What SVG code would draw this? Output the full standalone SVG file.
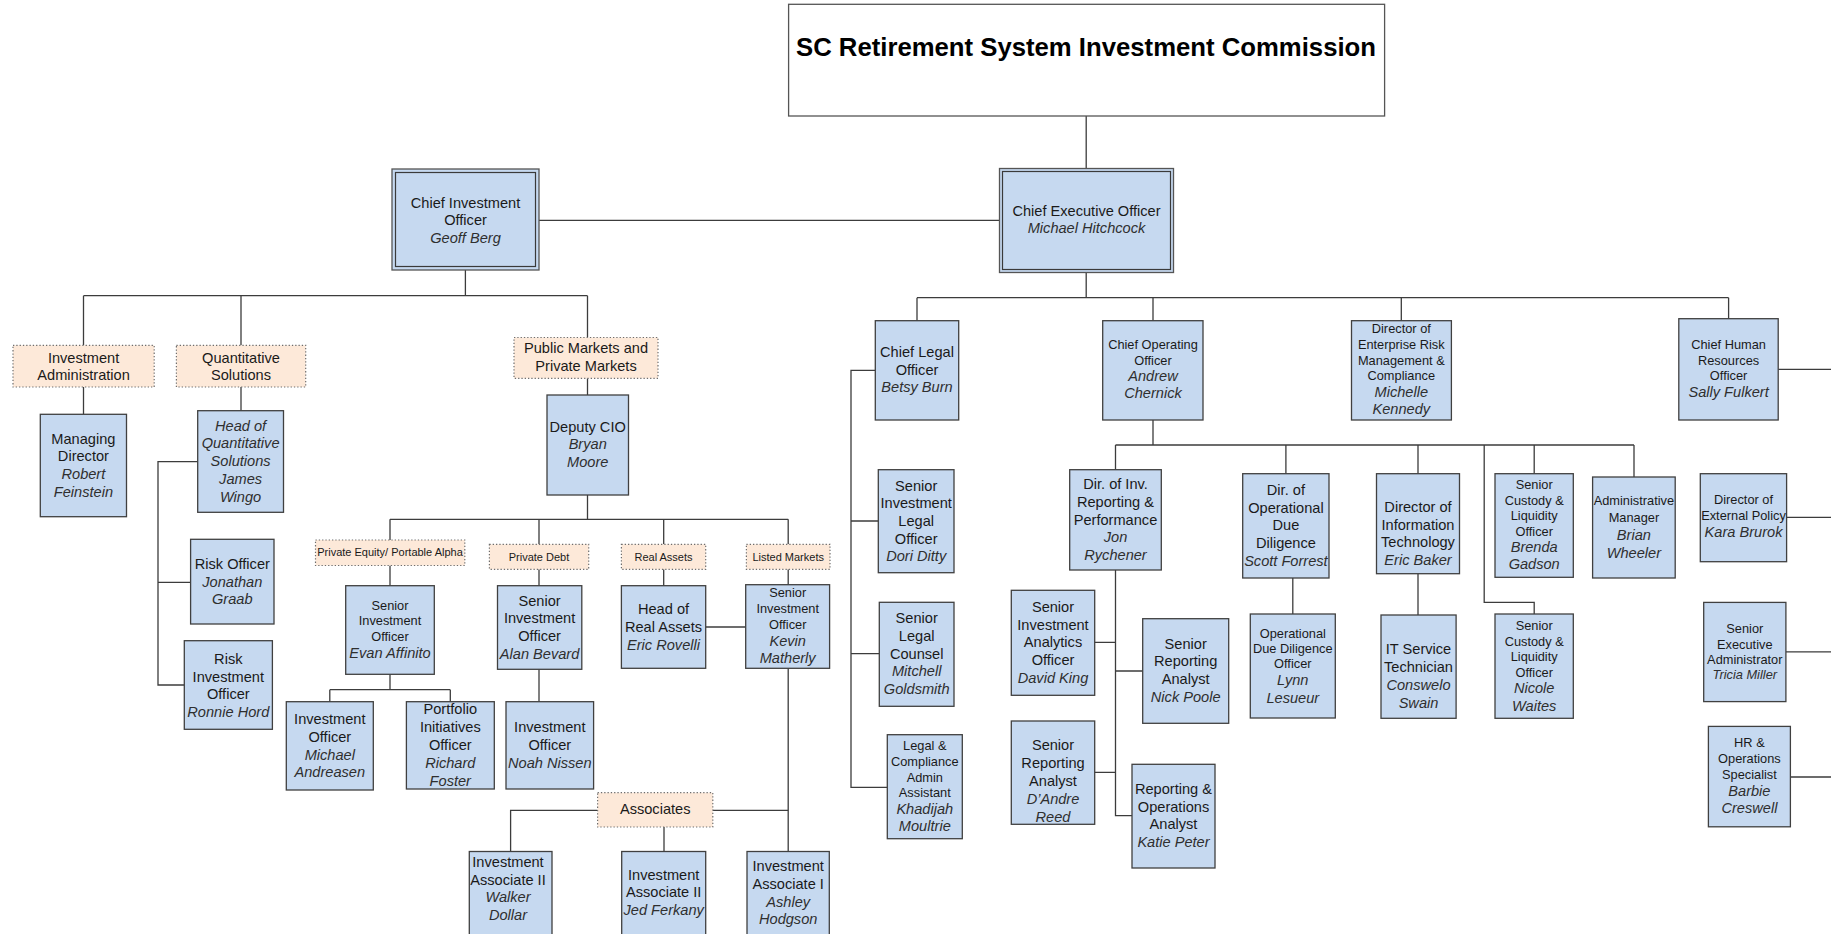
<svg xmlns="http://www.w3.org/2000/svg" width="1831" height="934" viewBox="0 0 1831 934">
  <style>
    .b { fill: #c6d9f0; stroke: #404040; stroke-width: 1.3; }
    .d { fill: #fde9d9; stroke: #6e6e6e; stroke-width: 1.2; stroke-dasharray: 1.3 2; }
    .o { fill: #c6d9f0; stroke: #555555; stroke-width: 1.3; }
    .in { fill: none; stroke: #3a3a3a; stroke-width: 1.2; }
    text { font-family: "Liberation Sans", Arial, sans-serif; text-anchor: middle; fill: #1a1a1a; font-size: 14.6px; }
    .s { font-size: 12.8px; }
    .xs { font-size: 11px; }
    .i { font-style: italic; fill: #2f2f2f; }
    .title { font-size: 25px; font-weight: bold; fill: #000; }
    #connectors path { fill: none; stroke: #3c3c3c; stroke-width: 1.3; }
  </style>
  <rect width="1831" height="934" fill="#ffffff"/>

  <!-- connectors -->
  <g id="connectors">
    <path d="M1086.2 116 V168.5"/>
    <path d="M539 220.3 H999.5"/>
    <!-- CIO branch -->
    <path d="M465.4 270 V295.7 M83.5 295.7 H587.5 M83.5 295.7 V345.3 M241 295.7 V345.3 M587.5 295.7 V337.5"/>
    <path d="M83.5 387 V414.3"/>
    <path d="M241 387 V410.7"/>
    <path d="M197.7 461.7 H158 V685 H184.3 M158 582.3 H190.6"/>
    <path d="M587.5 378.3 V395"/>
    <path d="M587.5 495 V519.3 M390 519.3 H788.2 M390 519.3 V540 M539 519.3 V544.3 M663.7 519.3 V544.3 M788.2 519.3 V544.3"/>
    <path d="M390 565.5 V585.7"/>
    <path d="M390 674.3 V689.7 M329.8 689.7 H450.3 M329.8 689.7 V701.7 M450.3 689.7 V701.7"/>
    <path d="M539 569.3 V585.7"/>
    <path d="M539 669.3 V701.7"/>
    <path d="M663.7 569.3 V585.7"/>
    <path d="M788.2 569.3 V584.7"/>
    <path d="M705.7 627 H745.7"/>
    <path d="M788.2 668.3 V851.5"/>
    <path d="M712.8 810.3 H788.2"/>
    <path d="M597.6 810.3 H510.6 V851.5"/>
    <path d="M664 827 V851.5"/>
    <!-- CEO branch -->
    <path d="M1086.2 272.7 V297.7 M917 297.7 H1728.6 M917 297.7 V320.7 M1153 297.7 V320.7 M1401.3 297.7 V320.7 M1728.6 297.7 V318.7"/>
    <path d="M875.3 370.3 H851 V787.3 H887.3 M851 521 H878.3 M851 653.7 H879.3"/>
    <path d="M1153 420 V445 M1115.5 445 H1634 M1115.5 445 V469.7 M1285.9 445 V473.7 M1418 445 V473.7 M1534.2 445 V473.7 M1634 445 V477"/>
    <path d="M1484.2 445 V602.3 H1534.2 V614"/>
    <path d="M1115.5 570 V815.7 H1132 M1094.7 642.3 H1115.5 M1115.5 671 H1142.7 M1094.7 772.3 H1115.5"/>
    <path d="M1292.8 578 V614"/>
    <path d="M1418 573.7 V615"/>
    <path d="M1778.2 369.3 H1831 M1786.6 517.3 H1831 M1785.9 651.8 H1831 M1790.4 777 H1831"/>
  </g>

  <!-- top level -->
  <g id="commission">
    <rect x="788.6" y="4.3" width="596" height="111.7" fill="#ffffff" stroke="#555555" stroke-width="1.3"/>
    <text class="title" x="1086" y="55.7" textLength="580" lengthAdjust="spacingAndGlyphs">SC Retirement System Investment Commission</text>
  </g>
  <g id="cio">
    <rect class="o" x="392" y="169" width="147" height="101"/>
    <rect class="in" x="395.5" y="172.5" width="140" height="94"/>
    <text x="465.5"><tspan x="465.5" y="207.5">Chief Investment</tspan><tspan x="465.5" y="225">Officer</tspan><tspan class="i" x="465.5" y="242.7">Geoff Berg</tspan></text>
  </g>
  <g id="ceo">
    <rect class="o" x="999.5" y="168.5" width="174" height="104"/>
    <rect class="in" x="1002.5" y="171.5" width="168" height="98"/>
    <text x="1086.5"><tspan x="1086.5" y="215.7">Chief Executive Officer</tspan><tspan class="i" x="1086.5" y="232.7">Michael Hitchcock</tspan></text>
  </g>

  <!-- investment office -->
  <g id="investment-administration">
    <rect class="d" x="13" y="345.3" width="141.2" height="41.7"/>
    <text x="83.6"><tspan x="83.6" y="362.5">Investment</tspan><tspan x="83.6" y="380">Administration</tspan></text>
  </g>
  <g id="quantitative-solutions">
    <rect class="d" x="176.4" y="345.3" width="129.3" height="41.7"/>
    <text x="241"><tspan x="241" y="362.5">Quantitative</tspan><tspan x="241" y="380">Solutions</tspan></text>
  </g>
  <g id="public-private-markets">
    <rect class="d" x="514" y="337.5" width="144" height="40.8"/>
    <text x="586"><tspan x="586" y="353">Public Markets and</tspan><tspan x="586" y="370.5">Private Markets</tspan></text>
  </g>
  <g id="managing-director">
    <rect class="b" x="40.3" y="414.3" width="86.2" height="102.4"/>
    <text x="83.4"><tspan x="83.4" y="443.5">Managing</tspan><tspan x="83.4" y="461">Director</tspan><tspan class="i" x="83.4" y="479">Robert</tspan><tspan class="i" x="83.4" y="497">Feinstein</tspan></text>
  </g>
  <g id="head-quant">
    <rect class="b" x="197.7" y="410.7" width="85.8" height="101.6"/>
    <text class="i" x="240.6"><tspan x="240.6" y="430.5">Head of</tspan><tspan x="240.6" y="448">Quantitative</tspan><tspan x="240.6" y="466">Solutions</tspan><tspan x="240.6" y="483.5">James</tspan><tspan x="240.6" y="501.5">Wingo</tspan></text>
  </g>
  <g id="risk-officer">
    <rect class="b" x="190.6" y="539.3" width="83.4" height="84.7"/>
    <text x="232.3"><tspan x="232.3" y="568.5">Risk Officer</tspan><tspan class="i" x="232.3" y="586.5">Jonathan</tspan><tspan class="i" x="232.3" y="604">Graab</tspan></text>
  </g>
  <g id="risk-investment-officer">
    <rect class="b" x="184.3" y="640.7" width="88.1" height="88.6"/>
    <text x="228.3"><tspan x="228.3" y="664">Risk</tspan><tspan x="228.3" y="681.5">Investment</tspan><tspan x="228.3" y="699">Officer</tspan><tspan class="i" x="228.3" y="717">Ronnie Hord</tspan></text>
  </g>
  <g id="deputy-cio">
    <rect class="b" x="547" y="395" width="81.5" height="100"/>
    <text x="587.7"><tspan x="587.7" y="432">Deputy CIO</tspan><tspan class="i" x="587.7" y="449">Bryan</tspan><tspan class="i" x="587.7" y="466.5">Moore</tspan></text>
  </g>
  <g id="private-equity">
    <rect class="d" x="315.5" y="540" width="149.3" height="25.5"/>
    <text class="xs" x="390" y="556">Private Equity/ Portable Alpha</text>
  </g>
  <g id="private-debt">
    <rect class="d" x="489.4" y="544.3" width="99.3" height="25"/>
    <text class="xs" x="539" y="560.5">Private Debt</text>
  </g>
  <g id="real-assets">
    <rect class="d" x="621.4" y="544.3" width="84.3" height="25"/>
    <text class="xs" x="663.5" y="560.5">Real Assets</text>
  </g>
  <g id="listed-markets">
    <rect class="d" x="746.4" y="544.3" width="83.6" height="25"/>
    <text class="xs" x="788.2" y="560.5">Listed Markets</text>
  </g>
  <g id="sio-affinito">
    <rect class="b" x="345.7" y="585.7" width="88.6" height="88.6"/>
    <text x="390"><tspan class="s" x="390" y="609.5">Senior</tspan><tspan class="s" x="390" y="625">Investment</tspan><tspan class="s" x="390" y="640.5">Officer</tspan><tspan class="i" x="390" y="657.5">Evan Affinito</tspan></text>
  </g>
  <g id="sio-bevard">
    <rect class="b" x="497.5" y="585.7" width="84.3" height="83.6"/>
    <text x="539.6"><tspan x="539.6" y="605.5">Senior</tspan><tspan x="539.6" y="623">Investment</tspan><tspan x="539.6" y="641">Officer</tspan><tspan class="i" x="539.6" y="659">Alan Bevard</tspan></text>
  </g>
  <g id="io-andreasen">
    <rect class="b" x="286.3" y="701.7" width="87" height="88.3"/>
    <text x="329.8"><tspan x="329.8" y="724">Investment</tspan><tspan x="329.8" y="742">Officer</tspan><tspan class="i" x="329.8" y="759.5">Michael</tspan><tspan class="i" x="329.8" y="777">Andreasen</tspan></text>
  </g>
  <g id="pio-foster">
    <rect class="b" x="406.4" y="701.7" width="87.9" height="87.3"/>
    <text x="450.3"><tspan x="450.3" y="714">Portfolio</tspan><tspan x="450.3" y="732">Initiatives</tspan><tspan x="450.3" y="750">Officer</tspan><tspan class="i" x="450.3" y="767.5">Richard</tspan><tspan class="i" x="450.3" y="785.5">Foster</tspan></text>
  </g>
  <g id="io-nissen">
    <rect class="b" x="506" y="701.7" width="87.6" height="87.3"/>
    <text x="549.8"><tspan x="549.8" y="732">Investment</tspan><tspan x="549.8" y="750">Officer</tspan><tspan class="i" x="549.8" y="767.5">Noah Nissen</tspan></text>
  </g>
  <g id="head-real-assets">
    <rect class="b" x="621.4" y="585.7" width="84.3" height="82.6"/>
    <text x="663.5"><tspan x="663.5" y="614">Head of</tspan><tspan x="663.5" y="632">Real Assets</tspan><tspan class="i" x="663.5" y="649.5">Eric Rovelli</tspan></text>
  </g>
  <g id="sio-matherly">
    <rect class="b" x="745.7" y="584.7" width="83.9" height="83.6"/>
    <text x="787.7"><tspan class="s" x="787.7" y="597">Senior</tspan><tspan class="s" x="787.7" y="613">Investment</tspan><tspan class="s" x="787.7" y="629">Officer</tspan><tspan class="i" x="787.7" y="645.5">Kevin</tspan><tspan class="i" x="787.7" y="663">Matherly</tspan></text>
  </g>
  <g id="associates">
    <rect class="d" x="597.6" y="792.7" width="115.2" height="34.3"/>
    <text x="655.2" y="814">Associates</text>
  </g>
  <g id="ia-dollar">
    <rect class="b" x="469.3" y="851.5" width="82.7" height="90"/>
    <text x="508"><tspan x="508" y="866.5">Investment</tspan><tspan x="508" y="884.5">Associate II</tspan><tspan class="i" x="508" y="902">Walker</tspan><tspan class="i" x="508" y="919.5">Dollar</tspan></text>
  </g>
  <g id="ia-ferkany">
    <rect class="b" x="621.7" y="851.5" width="84" height="90"/>
    <text x="663.7"><tspan x="663.7" y="880">Investment</tspan><tspan x="663.7" y="897">Associate II</tspan><tspan class="i" x="663.7" y="914.5">Jed Ferkany</tspan></text>
  </g>
  <g id="ia-hodgson">
    <rect class="b" x="747" y="851.5" width="82.3" height="90"/>
    <text x="788.2"><tspan x="788.2" y="870.5">Investment</tspan><tspan x="788.2" y="889">Associate I</tspan><tspan class="i" x="788.2" y="906.5">Ashley</tspan><tspan class="i" x="788.2" y="924">Hodgson</tspan></text>
  </g>

  <!-- executive office -->
  <g id="chief-legal">
    <rect class="b" x="875.3" y="320.7" width="83.4" height="99.3"/>
    <text x="917"><tspan x="917" y="357">Chief Legal</tspan><tspan x="917" y="374.5">Officer</tspan><tspan class="i" x="917" y="392">Betsy Burn</tspan></text>
  </g>
  <g id="coo">
    <rect class="b" x="1102.7" y="320.7" width="100.3" height="99.3"/>
    <text x="1153"><tspan class="s" x="1153" y="348.5">Chief Operating</tspan><tspan class="s" x="1153" y="364.5">Officer</tspan><tspan class="i" x="1153" y="381">Andrew</tspan><tspan class="i" x="1153" y="398">Chernick</tspan></text>
  </g>
  <g id="erm-director">
    <rect class="b" x="1351.5" y="320.7" width="99.9" height="99.3"/>
    <text x="1401.3"><tspan class="s" x="1401.3" y="333">Director of</tspan><tspan class="s" x="1401.3" y="349">Enterprise Risk</tspan><tspan class="s" x="1401.3" y="364.5">Management &amp;</tspan><tspan class="s" x="1401.3" y="379.5">Compliance</tspan><tspan class="i" x="1401.3" y="396.5">Michelle</tspan><tspan class="i" x="1401.3" y="413.5">Kennedy</tspan></text>
  </g>
  <g id="chro">
    <rect class="b" x="1678.8" y="318.7" width="99.4" height="101.3"/>
    <text x="1728.6"><tspan class="s" x="1728.6" y="348.5">Chief Human</tspan><tspan class="s" x="1728.6" y="364.5">Resources</tspan><tspan class="s" x="1728.6" y="380">Officer</tspan><tspan class="i" x="1728.6" y="397">Sally Fulkert</tspan></text>
  </g>
  <g id="sil-ditty">
    <rect class="b" x="878.3" y="469.7" width="75.7" height="103"/>
    <text x="916.2"><tspan x="916.2" y="490.5">Senior</tspan><tspan x="916.2" y="508">Investment</tspan><tspan x="916.2" y="525.5">Legal</tspan><tspan x="916.2" y="543.5">Officer</tspan><tspan class="i" x="916.2" y="561">Dori Ditty</tspan></text>
  </g>
  <g id="slc-goldsmith">
    <rect class="b" x="879.3" y="602.3" width="74.7" height="104"/>
    <text x="916.7"><tspan x="916.7" y="623">Senior</tspan><tspan x="916.7" y="641">Legal</tspan><tspan x="916.7" y="658.5">Counsel</tspan><tspan class="i" x="916.7" y="676">Mitchell</tspan><tspan class="i" x="916.7" y="693.5">Goldsmith</tspan></text>
  </g>
  <g id="lca-moultrie">
    <rect class="b" x="887.3" y="734.7" width="75" height="104"/>
    <text x="924.8"><tspan class="s" x="924.8" y="750">Legal &amp;</tspan><tspan class="s" x="924.8" y="766">Compliance</tspan><tspan class="s" x="924.8" y="781.5">Admin</tspan><tspan class="s" x="924.8" y="797">Assistant</tspan><tspan class="i" x="924.8" y="813.5">Khadijah</tspan><tspan class="i" x="924.8" y="830.5">Moultrie</tspan></text>
  </g>
  <g id="dir-reporting">
    <rect class="b" x="1069.7" y="469.7" width="91.6" height="100.3"/>
    <text x="1115.5"><tspan x="1115.5" y="489">Dir. of Inv.</tspan><tspan x="1115.5" y="507">Reporting &amp;</tspan><tspan x="1115.5" y="524.5">Performance</tspan><tspan class="i" x="1115.5" y="542">Jon</tspan><tspan class="i" x="1115.5" y="559.5">Rychener</tspan></text>
  </g>
  <g id="dir-odd">
    <rect class="b" x="1242.7" y="473.7" width="86.3" height="104.3"/>
    <text x="1285.9"><tspan x="1285.9" y="495">Dir. of</tspan><tspan x="1285.9" y="512.5">Operational</tspan><tspan x="1285.9" y="530">Due</tspan><tspan x="1285.9" y="548">Diligence</tspan><tspan class="i" x="1285.9" y="565.5">Scott Forrest</tspan></text>
  </g>
  <g id="dir-it">
    <rect class="b" x="1376.5" y="473.7" width="83" height="100"/>
    <text x="1418"><tspan x="1418" y="511.5">Director of</tspan><tspan x="1418" y="529.5">Information</tspan><tspan x="1418" y="547">Technology</tspan><tspan class="i" x="1418" y="564.5">Eric Baker</tspan></text>
  </g>
  <g id="scl-gadson">
    <rect class="b" x="1495" y="473.7" width="78.3" height="103.6"/>
    <text x="1534.2"><tspan class="s" x="1534.2" y="488.5">Senior</tspan><tspan class="s" x="1534.2" y="504.5">Custody &amp;</tspan><tspan class="s" x="1534.2" y="520">Liquidity</tspan><tspan class="s" x="1534.2" y="535.5">Officer</tspan><tspan class="i" x="1534.2" y="552">Brenda</tspan><tspan class="i" x="1534.2" y="569">Gadson</tspan></text>
  </g>
  <g id="admin-manager">
    <rect class="b" x="1592.6" y="477" width="82.6" height="101"/>
    <text x="1633.9"><tspan class="s" x="1633.9" y="505">Administrative</tspan><tspan class="s" x="1633.9" y="522">Manager</tspan><tspan class="i" x="1633.9" y="540">Brian</tspan><tspan class="i" x="1633.9" y="557.5">Wheeler</tspan></text>
  </g>
  <g id="dir-external-policy">
    <rect class="b" x="1700.3" y="473.7" width="86.3" height="88"/>
    <text x="1743.5"><tspan class="s" x="1743.5" y="504">Director of</tspan><tspan class="s" x="1743.5" y="520">External Policy</tspan><tspan class="i" x="1743.5" y="537">Kara Brurok</tspan></text>
  </g>
  <g id="sia-king">
    <rect class="b" x="1011.3" y="590.3" width="83.4" height="105"/>
    <text x="1053"><tspan x="1053" y="612">Senior</tspan><tspan x="1053" y="629.5">Investment</tspan><tspan x="1053" y="647">Analytics</tspan><tspan x="1053" y="664.5">Officer</tspan><tspan class="i" x="1053" y="682.5">David King</tspan></text>
  </g>
  <g id="sra-poole">
    <rect class="b" x="1142.7" y="618.7" width="86" height="104.6"/>
    <text x="1185.7"><tspan x="1185.7" y="648.5">Senior</tspan><tspan x="1185.7" y="666">Reporting</tspan><tspan x="1185.7" y="684">Analyst</tspan><tspan class="i" x="1185.7" y="701.5">Nick Poole</tspan></text>
  </g>
  <g id="sra-reed">
    <rect class="b" x="1011.3" y="721" width="83.4" height="103.3"/>
    <text x="1053"><tspan x="1053" y="750">Senior</tspan><tspan x="1053" y="768">Reporting</tspan><tspan x="1053" y="786">Analyst</tspan><tspan class="i" x="1053" y="803.5">D’Andre</tspan><tspan class="i" x="1053" y="821.5">Reed</tspan></text>
  </g>
  <g id="roa-peter">
    <rect class="b" x="1132" y="764.3" width="83" height="103.7"/>
    <text x="1173.5"><tspan x="1173.5" y="794">Reporting &amp;</tspan><tspan x="1173.5" y="812">Operations</tspan><tspan x="1173.5" y="829">Analyst</tspan><tspan class="i" x="1173.5" y="847">Katie Peter</tspan></text>
  </g>
  <g id="oddo-lesueur">
    <rect class="b" x="1250.3" y="614" width="85" height="104"/>
    <text x="1292.8"><tspan class="s" x="1292.8" y="638">Operational</tspan><tspan class="s" x="1292.8" y="653">Due Diligence</tspan><tspan class="s" x="1292.8" y="668">Officer</tspan><tspan class="i" x="1292.8" y="685">Lynn</tspan><tspan class="i" x="1292.8" y="702.5">Lesueur</tspan></text>
  </g>
  <g id="its-swain">
    <rect class="b" x="1381" y="615" width="75.1" height="103.3"/>
    <text x="1418.5"><tspan x="1418.5" y="654">IT Service</tspan><tspan x="1418.5" y="672">Technician</tspan><tspan class="i" x="1418.5" y="690">Conswelo</tspan><tspan class="i" x="1418.5" y="707.5">Swain</tspan></text>
  </g>
  <g id="scl-waites">
    <rect class="b" x="1495" y="614" width="78.3" height="104.3"/>
    <text x="1534.2"><tspan class="s" x="1534.2" y="629.5">Senior</tspan><tspan class="s" x="1534.2" y="645.5">Custody &amp;</tspan><tspan class="s" x="1534.2" y="661">Liquidity</tspan><tspan class="s" x="1534.2" y="676.5">Officer</tspan><tspan class="i" x="1534.2" y="692.5">Nicole</tspan><tspan class="i" x="1534.2" y="711">Waites</tspan></text>
  </g>
  <g id="sea-miller">
    <rect class="b" x="1703.7" y="602.4" width="82.2" height="99.2"/>
    <text class="s" x="1744.8"><tspan x="1744.8" y="633">Senior</tspan><tspan x="1744.8" y="648.5">Executive</tspan><tspan x="1744.8" y="664">Administrator</tspan><tspan class="i" x="1744.8" y="679">Tricia Miller</tspan></text>
  </g>
  <g id="hros-creswell">
    <rect class="b" x="1708.4" y="726.4" width="82" height="100.4"/>
    <text x="1749.4"><tspan class="s" x="1749.4" y="747">HR &amp;</tspan><tspan class="s" x="1749.4" y="763">Operations</tspan><tspan class="s" x="1749.4" y="778.5">Specialist</tspan><tspan class="i" x="1749.4" y="795.5">Barbie</tspan><tspan class="i" x="1749.4" y="813">Creswell</tspan></text>
  </g>
</svg>
